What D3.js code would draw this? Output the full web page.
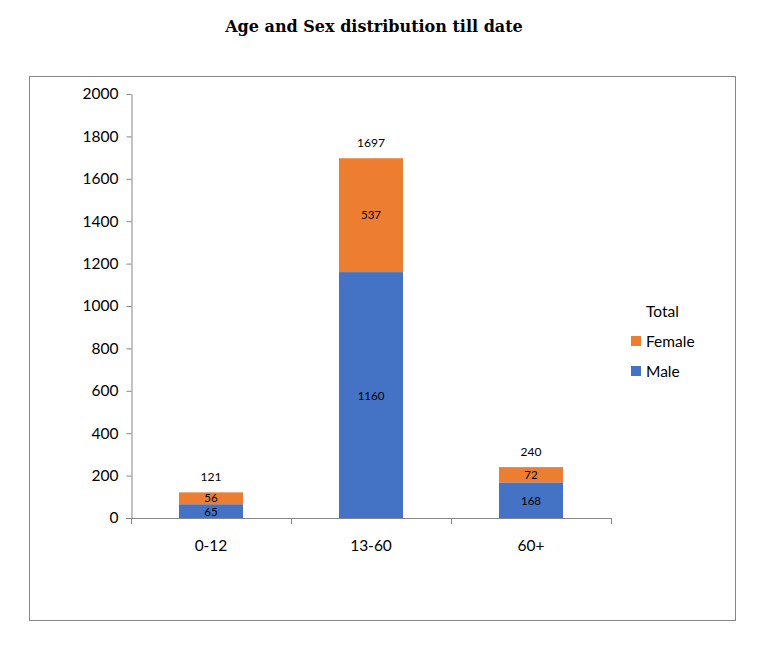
<!DOCTYPE html>
<html><head><meta charset="utf-8">
<script src="https://cdn.jsdelivr.net/npm/d3@7"></script>
<style>body{margin:0;background:#fff}</style>
</head><body>
<script>
const categories = ["0-12", "13-60", "60+"];
const male = [65, 1160, 168];
const female = [56, 537, 72];
const totals = [121, 1697, 240];
const yTicks = [0, 200, 400, 600, 800, 1000, 1200, 1400, 1600, 1800, 2000];

const W = 765, H = 654;
const svg = d3.select("body").append("svg").attr("width", W).attr("height", H);
svg.append("rect").attr("width", W).attr("height", H).attr("fill", "#fff");

svg.append("text").attr("x", 374).attr("y", 32).attr("text-anchor", "middle")
  .attr("font-family", "DejaVu Serif").attr("font-weight", "bold").attr("font-size", 16)
  .text("Age and Sex distribution till date");

svg.append("rect").attr("x", 29.5).attr("y", 76.5).attr("width", 706).attr("height", 544)
  .attr("fill", "none").attr("stroke", "#868686").attr("stroke-width", 1);

const x = d3.scaleBand().domain(categories).range([131, 611]).paddingInner(0.6).paddingOuter(0.3);
const y = d3.scaleLinear().domain([0, 2000]).range([518, 94]);
const font = "Lato, 'Open Sans', sans-serif";

const yAxis = svg.append("g").attr("transform", "translate(131.5,0)")
  .call(d3.axisLeft(y).tickValues(yTicks).tickFormat(d3.format("d")).tickSize(5).tickSizeOuter(0).tickPadding(8));
yAxis.select(".domain").attr("stroke", "#868686");
yAxis.selectAll(".tick line").attr("stroke", "#868686");
yAxis.selectAll("text").attr("font-family", font).attr("font-size", 15.5).attr("fill", "#000");

const xb = d3.scaleLinear().domain([0, 3]).range([131, 611]);
const g = svg.append("g");
g.append("line").attr("x1", 126).attr("x2", 611).attr("y1", 518.5).attr("y2", 518.5).attr("stroke", "#868686");
[0,1,2,3].forEach(i => {
  g.append("line").attr("x1", Math.round(xb(i))+0.5).attr("x2", Math.round(xb(i))+0.5)
   .attr("y1", 518).attr("y2", 524).attr("stroke", "#868686");
});

categories.forEach((c, i) => {
  const bx = x(c), bw = x.bandwidth();
  svg.append("rect").attr("x", bx).attr("width", bw).attr("y", y(male[i])).attr("height", y(0) - y(male[i])).attr("fill", "#4472C4");
  svg.append("rect").attr("x", bx).attr("width", bw).attr("y", y(male[i] + female[i])).attr("height", y(0) - y(female[i])).attr("fill", "#ED7D31");
  const cx = bx + bw / 2;
  svg.append("text").attr("x", cx).attr("y", (y(0) + y(male[i])) / 2 + 4.5).attr("text-anchor", "middle")
    .attr("font-family", font).attr("font-size", 11.5).text(male[i]);
  svg.append("text").attr("x", cx).attr("y", (y(male[i]) + y(male[i] + female[i])) / 2 + 4).attr("text-anchor", "middle")
    .attr("font-family", font).attr("font-size", 11.5).text(female[i]);
  svg.append("text").attr("x", cx).attr("y", y(totals[i]) - 11).attr("text-anchor", "middle")
    .attr("font-family", font).attr("font-size", 12).text(totals[i]);
  svg.append("text").attr("x", cx).attr("y", 551).attr("text-anchor", "middle")
    .attr("font-family", font).attr("font-size", 15.5).text(c);
});

svg.append("text").attr("x", 646).attr("y", 317).attr("font-family", font).attr("font-size", 15.5).text("Total");
const legend = [["Female", "#ED7D31", 341], ["Male", "#4472C4", 371]];
legend.forEach(([t, col, yy]) => {
  svg.append("rect").attr("x", 631).attr("y", yy - 5).attr("width", 10).attr("height", 10).attr("fill", col);
  svg.append("text").attr("x", 646).attr("y", yy + 5.5).attr("font-family", font).attr("font-size", 15.5).text(t);
});
</script>
</body></html>
